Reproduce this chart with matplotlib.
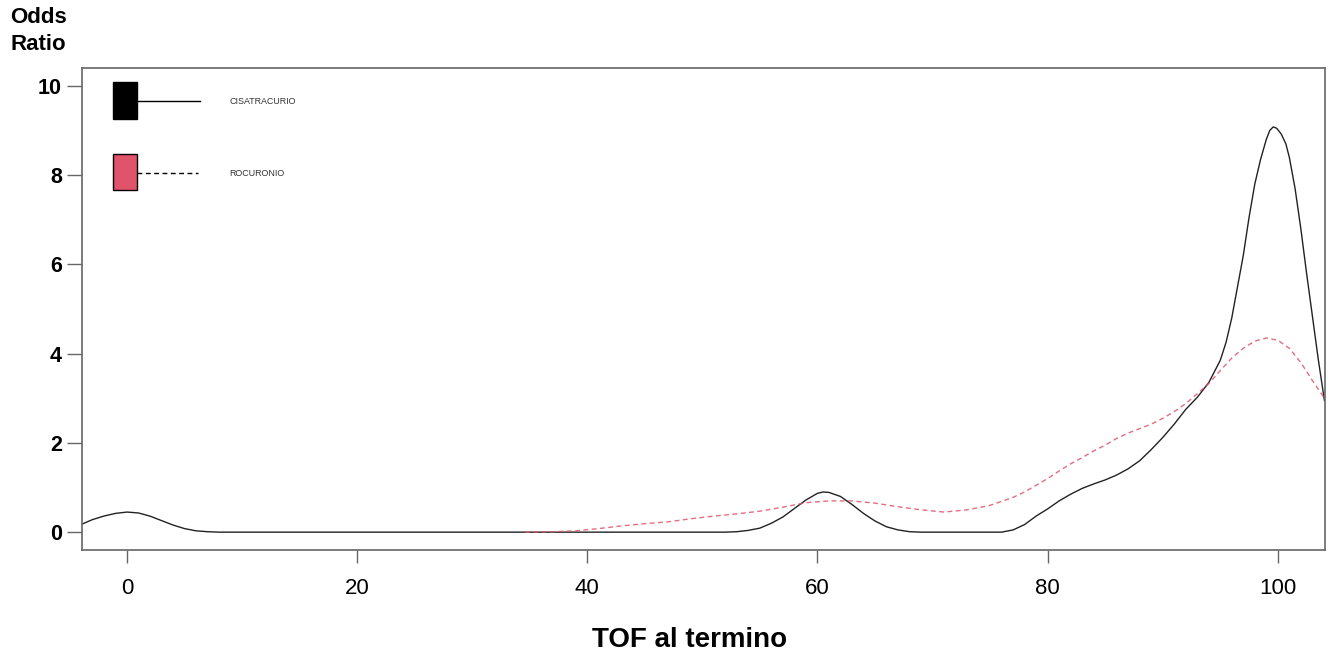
import matplotlib
matplotlib.use("Agg")
import matplotlib.pyplot as plt
from matplotlib.patches import Rectangle
from matplotlib.lines import Line2D

plt.rcParams['font.family'] = ['Liberation Sans', 'DejaVu Sans']

# CISATRACURIO (solid black)
cis_x = [-3.9, -3, -2, -1, 0, 1, 2, 3, 4, 5, 6, 7, 8, 20, 40, 52, 53, 54, 55, 56, 57, 58, 59, 60,
         60.5, 61, 62, 63, 64, 65, 66, 67, 68, 69, 76, 77, 78, 79, 80, 81, 82, 83, 84, 85, 86, 87,
         88, 89, 90, 91, 92, 93, 94, 95, 95.5, 96, 96.5, 97, 97.5, 98, 98.5, 99, 99.3, 99.6, 99.9,
         100.3, 100.7, 101, 101.5, 102, 102.5, 103, 103.5, 104.05]
cis_y = [0.18, 0.28, 0.36, 0.42, 0.45, 0.43, 0.36, 0.26, 0.16, 0.08, 0.03, 0.01, 0.0, 0.0, 0.0, 0.0,
         0.01, 0.04, 0.09, 0.2, 0.34, 0.53, 0.72, 0.87, 0.9, 0.89, 0.8, 0.62, 0.42, 0.25, 0.12, 0.05,
         0.01, 0.0, 0.0, 0.05, 0.17, 0.36, 0.52, 0.7, 0.85, 0.98, 1.08, 1.17, 1.28, 1.42, 1.6, 1.85,
         2.12, 2.42, 2.75, 3.02, 3.35, 3.85, 4.25, 4.8, 5.5, 6.2, 7.05, 7.8, 8.35, 8.8, 9.0, 9.08, 9.05,
         8.92, 8.7, 8.4, 7.7, 6.8, 5.8, 4.85, 3.9, 2.95]

# ROCURONIO (dashed red)
roc_x = [34.6, 37, 39, 41, 43, 45, 47, 49, 51, 53, 55, 57, 59, 61, 63, 65, 67, 69, 71, 73, 75, 77,
         78, 79, 80, 81, 82, 83, 84, 85, 86, 87, 88, 89, 90, 91, 92, 93, 94, 95, 96, 97, 98, 99,
         100, 101, 102, 103, 104.05]
roc_y = [0.0, 0.01, 0.03, 0.08, 0.14, 0.19, 0.23, 0.3, 0.36, 0.41, 0.47, 0.56, 0.66, 0.7, 0.7, 0.65,
         0.57, 0.5, 0.45, 0.5, 0.6, 0.78, 0.9, 1.05, 1.2, 1.37, 1.53, 1.67, 1.82, 1.95, 2.1, 2.22,
         2.32, 2.42, 2.55, 2.7, 2.88, 3.1, 3.33, 3.62, 3.9, 4.12, 4.28, 4.35, 4.3, 4.12, 3.8, 3.4, 3.0]

x_ticks = [0, 20, 40, 60, 80, 100]
y_ticks = [0, 2, 4, 6, 8, 10]
series_names = ['CISATRACURIO', 'ROCURONIO']
red = '#DF536B'

W, H = 1330, 656
fig = plt.figure(figsize=(W / 100, H / 100), dpi=100)
ax = fig.add_axes([82 / W, 1 - 550 / H, (1325 - 82) / W, (550 - 68) / H])

ax.plot(cis_x, cis_y, color='#222222', lw=1.0, solid_joinstyle='round')
ax.plot(roc_x, roc_y, color=red, lw=1.0, alpha=0.85, dashes=(3.5, 2.5))

ax.set_xlim(-3.9, 104.1)
ax.set_ylim(-0.4, 10.4)
ax.set_xticks(x_ticks)
ax.set_yticks(y_ticks)
ax.set_xticklabels([str(v) for v in x_ticks], fontsize=16)
ax.set_yticklabels([str(v) for v in y_ticks], fontsize=15.5, fontweight='bold')
ax.tick_params(axis='x', length=9.4, width=1, color='#666666', pad=11)
ax.tick_params(axis='y', length=10.8, width=1, color='#666666', pad=3.6)
for s in ax.spines.values():
    s.set_color('#666666')
    s.set_linewidth(1.2)

fig.text(10 / W, 1 - 7 / H, 'Odds\nRatio', fontsize=16, fontweight='bold',
         ha='left', va='top', linespacing=1.35)
fig.text(690 / W, 1 - 647 / H, 'TOF al termino', fontsize=20, fontweight='bold',
         ha='center', va='baseline')

def fx(px):
    return px / W

def fy(py):
    return 1 - py / H

# legend
fig.add_artist(Rectangle((fx(113), fy(119)), fx(137) - fx(113), fy(82) - fy(119),
                         transform=fig.transFigure, facecolor='black', edgecolor='black', lw=1))
fig.add_artist(Line2D([fx(137), fx(200)], [fy(101), fy(101)], transform=fig.transFigure,
                      color='black', lw=1))
fig.text(fx(229), fy(101), series_names[0], fontsize=6.4, color='#333333', ha='left', va='center')

fig.add_artist(Rectangle((fx(113), fy(190)), fx(137) - fx(113), fy(154) - fy(190),
                         transform=fig.transFigure, facecolor=red, edgecolor='black', lw=1))
fig.add_artist(Line2D([fx(137), fx(198)], [fy(173), fy(173)], transform=fig.transFigure,
                      color='black', lw=1, dashes=(3.5, 2.5)))
fig.text(fx(229), fy(174), series_names[1], fontsize=6.4, color='#333333', ha='left', va='center')

fig.savefig('out.png', dpi=100)
